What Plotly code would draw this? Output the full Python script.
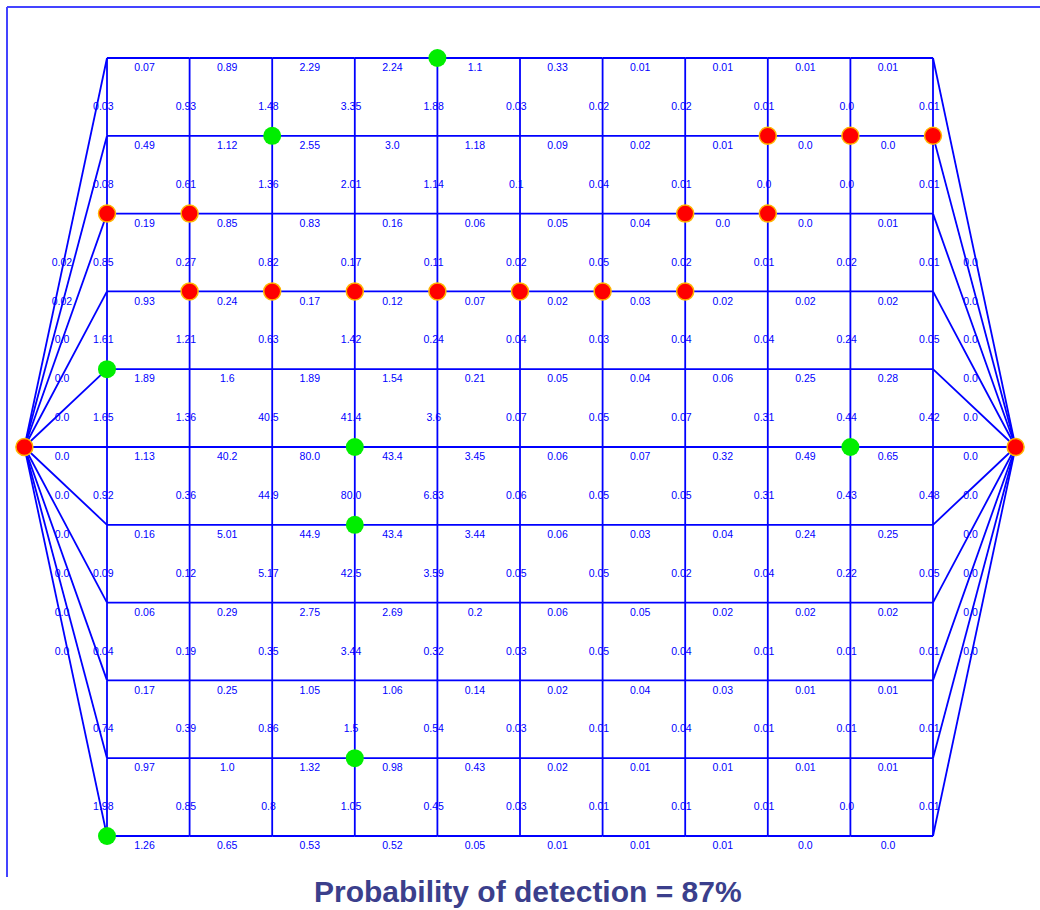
import plotly.graph_objects as go

# ---- data -------------------------------------------------------------
N_COLS = 11   # grid columns 0..10
N_ROWS = 11   # grid rows 0..10
LEFT_NODE = (-1, 5)
RIGHT_NODE = (11, 5)

# horizontal edge probabilities, one list per grid row (left -> right)
h_row0 = [0.07, 0.89, 2.29, 2.24, 1.1, 0.33, 0.01, 0.01, 0.01, 0.01]
h_row1 = [0.49, 1.12, 2.55, 3.0, 1.18, 0.09, 0.02, 0.01, 0.0, 0.0]
h_row2 = [0.19, 0.85, 0.83, 0.16, 0.06, 0.05, 0.04, 0.0, 0.0, 0.01]
h_row3 = [0.93, 0.24, 0.17, 0.12, 0.07, 0.02, 0.03, 0.02, 0.02, 0.02]
h_row4 = [1.89, 1.6, 1.89, 1.54, 0.21, 0.05, 0.04, 0.06, 0.25, 0.28]
h_row5 = [1.13, 40.2, 80.0, 43.4, 3.45, 0.06, 0.07, 0.32, 0.49, 0.65]
h_row6 = [0.16, 5.01, 44.9, 43.4, 3.44, 0.06, 0.03, 0.04, 0.24, 0.25]
h_row7 = [0.06, 0.29, 2.75, 2.69, 0.2, 0.06, 0.05, 0.02, 0.02, 0.02]
h_row8 = [0.17, 0.25, 1.05, 1.06, 0.14, 0.02, 0.04, 0.03, 0.01, 0.01]
h_row9 = [0.97, 1.0, 1.32, 0.98, 0.43, 0.02, 0.01, 0.01, 0.01, 0.01]
h_row10 = [1.26, 0.65, 0.53, 0.52, 0.05, 0.01, 0.01, 0.01, 0.0, 0.0]

# vertical edge probabilities, one list per gap between rows (columns 0..10)
v_gap0 = [0.03, 0.93, 1.48, 3.35, 1.88, 0.03, 0.02, 0.02, 0.01, 0.0, 0.01]
v_gap1 = [0.08, 0.61, 1.36, 2.01, 1.14, 0.1, 0.04, 0.01, 0.0, 0.0, 0.01]
v_gap2 = [0.85, 0.27, 0.82, 0.17, 0.11, 0.02, 0.05, 0.02, 0.01, 0.02, 0.01]
v_gap3 = [1.61, 1.21, 0.63, 1.42, 0.24, 0.04, 0.03, 0.04, 0.04, 0.24, 0.05]
v_gap4 = [1.65, 1.36, 40.5, 41.4, 3.6, 0.07, 0.05, 0.07, 0.31, 0.44, 0.42]
v_gap5 = [0.92, 0.36, 44.9, 80.0, 6.83, 0.06, 0.05, 0.05, 0.31, 0.43, 0.48]
v_gap6 = [0.09, 0.12, 5.17, 42.5, 3.59, 0.05, 0.05, 0.02, 0.04, 0.22, 0.05]
v_gap7 = [0.04, 0.19, 0.35, 3.44, 0.32, 0.03, 0.05, 0.04, 0.01, 0.01, 0.01]
v_gap8 = [0.74, 0.39, 0.86, 1.5, 0.54, 0.03, 0.01, 0.04, 0.01, 0.01, 0.01]
v_gap9 = [1.98, 0.85, 0.8, 1.05, 0.45, 0.03, 0.01, 0.01, 0.01, 0.0, 0.01]

# edges from the left / right end nodes to grid rows 0..10
left_edges = [0.02, 0.02, 0.0, 0.0, 0.0, 0.0, 0.0, 0.0, 0.0, 0.0, 0.0]
right_edges = [0.0, 0.0, 0.0, 0.0, 0.0, 0.0, 0.0, 0.0, 0.0, 0.0, 0.0]

# sensor nodes (column, row)
green_cols = [4, 2, 0, 3, 3, 9, 3, 0]
green_rows = [0, 1, 4, 5, 6, 5, 9, 10]
red_cols = [0, 1, 7, 8, 8, 9, 10, 1, 2, 3, 4, 5, 6, 7, -1, 11]
red_rows = [2, 2, 2, 2, 1, 1, 1, 3, 3, 3, 3, 3, 3, 3, 5, 5]

title_text = "Probability of detection = 87%"

h_rows = [h_row0, h_row1, h_row2, h_row3, h_row4, h_row5,
          h_row6, h_row7, h_row8, h_row9, h_row10]
v_gaps = [v_gap0, v_gap1, v_gap2, v_gap3, v_gap4,
          v_gap5, v_gap6, v_gap7, v_gap8, v_gap9]

# ---- build geometry -----------------------------------------------------
BLUE = "#0000ff"
DY = 0.135    # label drop below edge midpoint (rows)
DX = -0.045   # small left shift of labels (cols)

lx, ly = [], []
tx, ty, tt = [], [], []

def add_edge(a, b, val):
    lx.extend([a[0], b[0], None])
    ly.extend([a[1], b[1], None])
    tx.append((a[0] + b[0]) / 2 + DX)
    ty.append((a[1] + b[1]) / 2 + DY)
    tt.append(str(val))

for r, vals in enumerate(h_rows):
    for c, v in enumerate(vals):
        add_edge((c, r), (c + 1, r), v)
for g, vals in enumerate(v_gaps):
    for c, v in enumerate(vals):
        add_edge((c, g), (c, g + 1), v)
for r, v in enumerate(left_edges):
    add_edge(LEFT_NODE, (0, r), v)
for r, v in enumerate(right_edges):
    add_edge(RIGHT_NODE, (N_COLS - 1, r), v)

fig = go.Figure()
fig.add_trace(go.Scatter(
    x=tx, y=ty, text=tt, mode="text", textposition="middle center",
    textfont=dict(family="Liberation Sans, Arial, sans-serif", size=10.5, color=BLUE),
    hoverinfo="skip", showlegend=False))
fig.add_trace(go.Scatter(
    x=lx, y=ly, mode="lines", line=dict(color=BLUE, width=1.8),
    hoverinfo="skip", showlegend=False))
fig.add_trace(go.Scatter(
    x=red_cols, y=red_rows, mode="markers",
    marker=dict(size=17, color="#ff0000", line=dict(color="#ffb400", width=1.5)),
    hoverinfo="skip", showlegend=False))
fig.add_trace(go.Scatter(
    x=green_cols, y=green_rows, mode="markers",
    marker=dict(size=18, color="#00ee00", line=dict(width=0)),
    hoverinfo="skip", showlegend=False))

W, H = 1040, 910
# pixel geometry of the grid: col0 at 107px, 82.6px per col; row0 at 58px, 77.8px per row
x0_px, dx_px = 107.0, 82.6
y0_px, dy_px = 58.0, 77.8
xr = [(0 - x0_px) / dx_px, (W - x0_px) / dx_px]
yr = [(H - y0_px) / dy_px, (0 - y0_px) / dy_px]

fig.update_layout(
    width=W, height=H, margin=dict(l=0, r=0, t=0, b=0),
    paper_bgcolor="white", plot_bgcolor="white",
    xaxis=dict(range=xr, visible=False, fixedrange=True),
    yaxis=dict(range=yr, visible=False, fixedrange=True),
    shapes=[
        dict(type="line", xref="paper", yref="paper", x0=7 / W, x1=1.0,
             y0=1 - 7 / H, y1=1 - 7 / H, line=dict(color="#4444ff", width=2)),
        dict(type="line", xref="paper", yref="paper", x0=7 / W, x1=7 / W,
             y0=1 - 7 / H, y1=1 - 877 / H, line=dict(color="#4444ff", width=2)),
    ],
    annotations=[dict(
        text="<b>" + title_text + "</b>", xref="paper", yref="paper",
        x=528 / W, y=1 - 891 / H, xanchor="center", yanchor="middle",
        showarrow=False,
        font=dict(family="Liberation Sans, Arial, sans-serif", size=30, color="#3b3f8c"))],
)

fig.write_html("out.html", config={"displayModeBar": False},
               post_script="document.body.style.margin='0';document.body.style.overflow='hidden';")
